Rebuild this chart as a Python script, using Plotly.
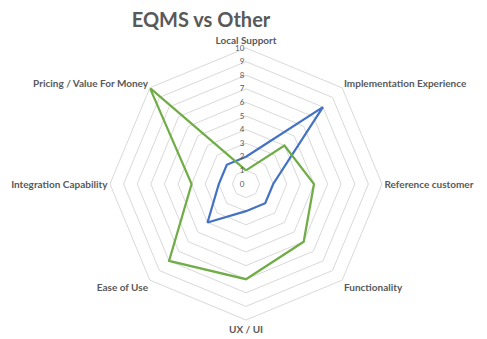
import plotly.graph_objects as go

# Criteria around the radar, clockwise from the top
criteria = [
    "Local Support",
    "Implementation Experience",
    "Reference customer",
    "Functionality",
    "UX / UI",
    "Ease of Use",
    "Integration Capability",
    "Pricing / Value For Money",
]

# Scores per criterion (0-10)
eqms_scores = [2, 8, 2, 2, 2, 4, 2, 2]
other_scores = [1, 4, 5, 6, 7, 8, 4, 10]

radial_ticks = list(range(0, 11))

TEXT = "#595959"
GRID = "#D9D9D9"
FONT = "Lato"


def closed(values):
    return values + values[:1]


fig = go.Figure()
fig.add_trace(go.Scatterpolar(
    r=closed(eqms_scores), theta=closed(criteria), mode="lines",
    name="EQMS", line=dict(color="#4472C4", width=2.25),
))
fig.add_trace(go.Scatterpolar(
    r=closed(other_scores), theta=closed(criteria), mode="lines",
    name="Other", line=dict(color="#70AD47", width=2.25),
))

W, H = 487, 339
cx, cy, R = 246, 184, 136

fig.update_layout(
    width=W, height=H,
    margin=dict(l=0, r=0, t=0, b=0),
    paper_bgcolor="white",
    plot_bgcolor="white",
    showlegend=False,
    title=dict(
        text="EQMS vs Other",
        x=201 / W, xanchor="center",
        y=1 - 20 / H, yanchor="middle",
        font=dict(family=FONT, size=20, color=TEXT, weight=700),
    ),
    polar=dict(
        domain=dict(
            x=[(cx - R) / W, (cx + R) / W],
            y=[1 - (cy + R) / H, 1 - (cy - R) / H],
        ),
        bgcolor="white",
        gridshape="linear",
        radialaxis=dict(
            range=[0, 10],
            tickvals=radial_ticks,
            ticktext=[str(v) for v in radial_ticks],
            angle=90,
            tickangle=90,
            side="counterclockwise",
            showline=False,
            ticks="",
            showgrid=True,
            gridcolor=GRID,
            gridwidth=1,
            tickfont=dict(family=FONT, size=8, color=TEXT),
        ),
        angularaxis=dict(
            direction="clockwise",
            rotation=90,
            showgrid=False,
            showline=True,
            linecolor=GRID,
            linewidth=1,
            ticks="",
            tickfont=dict(family=FONT, size=10, color=TEXT, weight=700),
        ),
    ),
)

fig.write_html("out.html")
